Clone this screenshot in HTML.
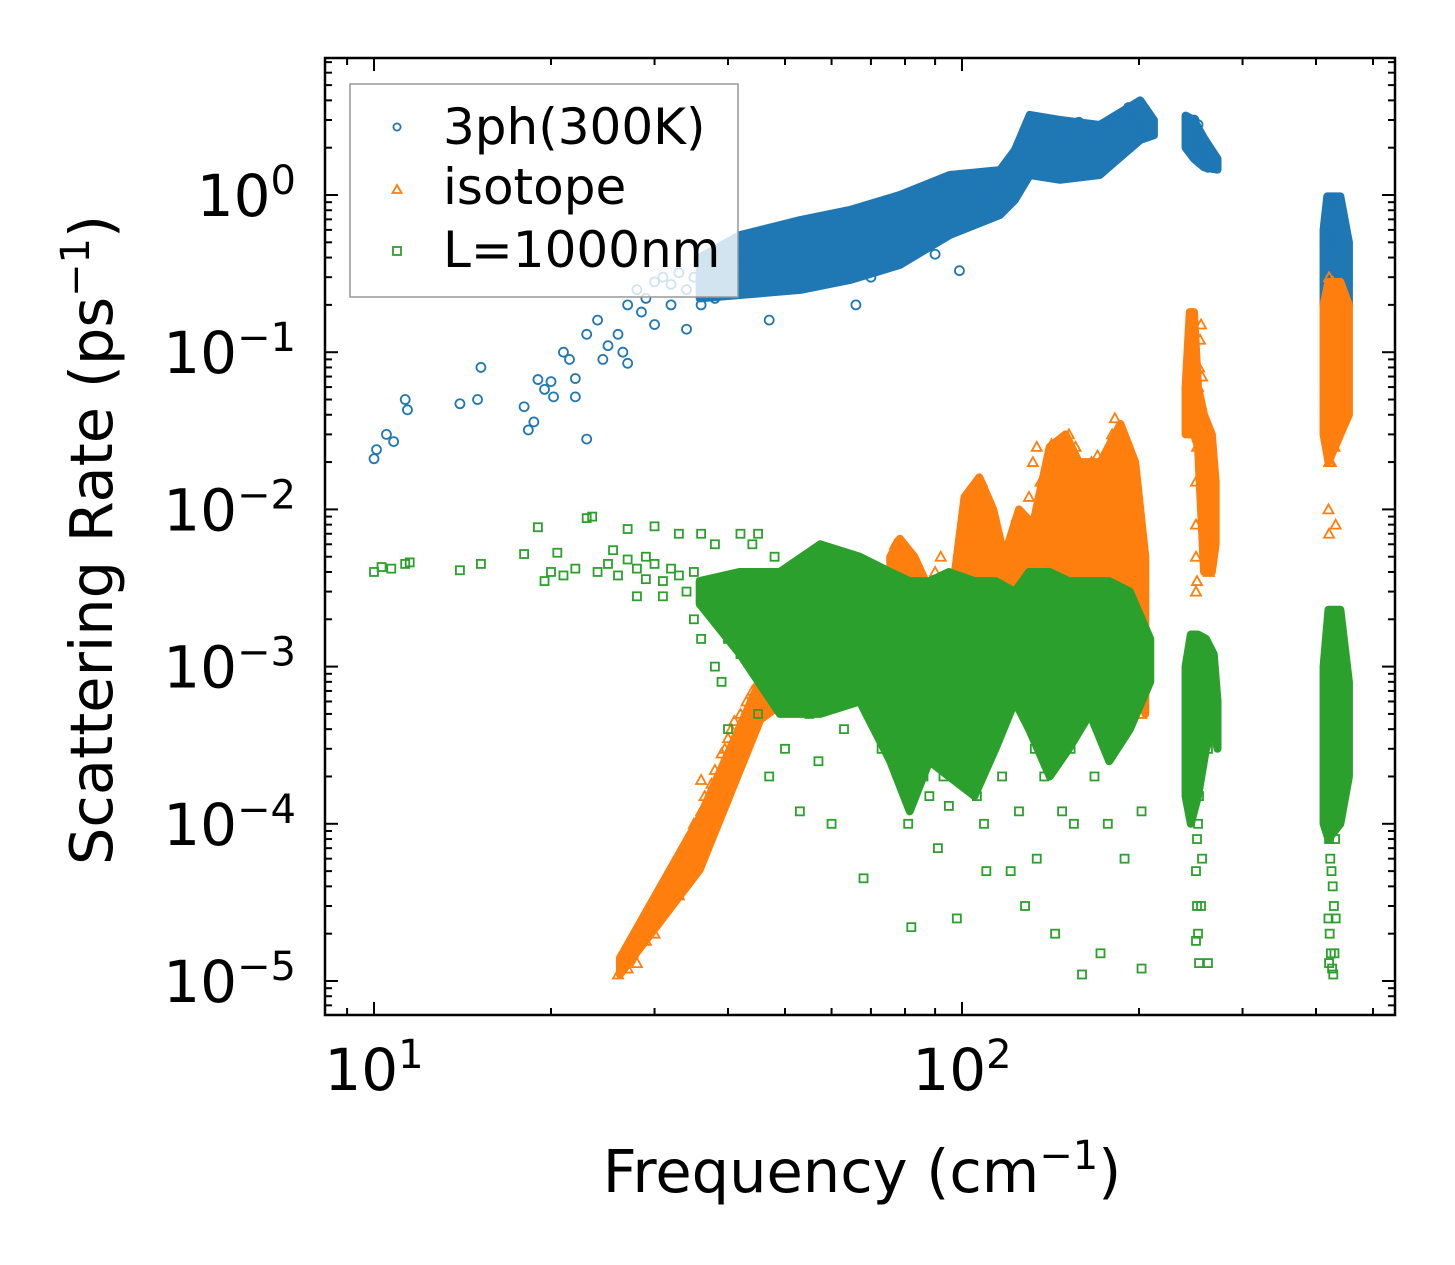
<!DOCTYPE html>
<html><head><meta charset="utf-8"><style>
body{margin:0;background:#fff}
svg{display:block;font-family:"DejaVu Sans","Liberation Sans",sans-serif}
</style></head><body>
<svg id="chart" width="1455" height="1265" viewBox="0 0 1455 1265" xmlns="http://www.w3.org/2000/svg">
<defs><clipPath id="clip"><rect x="325" y="58" width="1070" height="957"/></clipPath></defs>
<rect width="1455" height="1265" fill="#fff"/>
<g id="marks" clip-path="url(#clip)"></g>
<rect x="325" y="58" width="1070" height="957" fill="none" stroke="#000" stroke-width="2.5"/>
<g id="ticks"></g>
<text x="862" y="1192" font-size="59" text-anchor="middle">Frequency (cm<tspan dy="-23" font-size="40">−1</tspan><tspan dy="23">)</tspan></text>
<text transform="translate(112,540) rotate(-90)" font-size="59" text-anchor="middle">Scattering Rate (ps<tspan dy="-23" font-size="40">−1</tspan><tspan dy="23">)</tspan></text>
<g id="legend">
<rect x="350" y="84" width="388" height="213" fill="#fff" fill-opacity="0.8" stroke="#999" stroke-width="1.5"/>
<circle cx="397" cy="127" r="3.6" fill="none" stroke="#1f77b4" stroke-width="1.8"/>
<text x="443" y="144" font-size="50">3ph(300K)</text>
<path d="M397,185 L401.5,193 L392.5,193 Z" fill="none" stroke="#ff7f0e" stroke-width="1.8"/>
<text x="443" y="204" font-size="50">isotope</text>
<rect x="393" y="247" width="8" height="8" fill="none" stroke="#2ca02c" stroke-width="1.8"/>
<text x="443" y="267" font-size="50">L=1000nm</text>
</g>
</svg>
<script>
const xTickValues=[10,100];
const xTickLabelsExp=["1","2"];
const yTickExps=[0,-1,-2,-3,-4,-5];
const yTickLabelsExp=["0","−1","−2","−3","−4","−5"];
// dense-region envelopes: frequency, lower and upper rate
const blueBandFreq=[35.8,41.9,53.1,64.5,78.4,95.3,116,123,130.4,146.8,171.5,201,212];
const blueBandLo=[0.22,0.231,0.249,0.288,0.359,0.556,0.746,0.93,1.34,1.25,1.34,2.24,2.4];
const blueBandHi=[0.4,0.556,0.693,0.803,1.0,1.34,1.44,1.93,3.23,3.0,2.79,4.0,3.0];
const blueC1Freq=[240,248,258,272];
const blueC1Lo=[2.0,1.7,1.5,1.45];
const blueC1Hi=[3.2,3.0,2.3,1.7];
const blueC2Freq=[412,418,440,455];
const blueC2Lo=[0.2,0.15,0.15,0.2];
const blueC2Hi=[0.6,0.98,0.98,0.5];
const orangeRiseFreq=[26.2,35.8,45.4,50];
const orangeRiseLo=[1.1e-5,5.1e-5,4.6e-4,6e-4];
const orangeRiseHi=[1.4e-5,1.1e-4,8.2e-4,9e-4];
const orangeBandFreq=[75.5,78.4,83,88.3,97.3,101,107,113,118,125,132,141,150,158,172,186,197,205];
const orangeBandLo=[2e-3,2e-3,2e-3,2e-3,2e-3,2e-3,2e-3,2e-3,2e-3,2e-3,2e-3,2e-3,2e-3,2e-3,2e-3,2e-3,1e-3,5e-4];
const orangeBandHi=[5e-3,6.5e-3,5e-3,3e-3,4e-3,1.2e-2,1.6e-2,1e-2,5e-3,1e-2,8e-3,2.5e-2,3e-2,2e-2,2e-2,3.5e-2,2e-2,5e-3];
const orangeC1Freq=[240,244,248,252,258,266,270];
const orangeC1Lo=[0.03,0.03,0.03,0.025,0.004,0.004,0.006];
const orangeC1Hi=[0.06,0.18,0.18,0.06,0.04,0.03,0.015];
const orangeC2Freq=[412,420,440,455];
const orangeC2Lo=[0.03,0.02,0.03,0.04];
const orangeC2Hi=[0.2,0.28,0.28,0.2];
const greenBandFreq=[35.8,41.9,49,57.4,67,75.5,81.5,88,95,105,114,123,130,141,152,165,178,193,209];
const greenBandLo=[2.5e-3,1.2e-3,5e-4,5e-4,6e-4,2.5e-4,1.2e-4,2.5e-4,2e-4,1.5e-4,3e-4,6e-4,4e-4,2e-4,3e-4,5e-4,2.5e-4,4e-4,8e-4];
const greenBandHi=[3.5e-3,4e-3,4e-3,6e-3,5e-3,4e-3,3.5e-3,3.5e-3,4e-3,3.5e-3,3.5e-3,3e-3,4e-3,4e-3,3.5e-3,3.5e-3,3.5e-3,3e-3,1.5e-3];
const greenC1Freq=[240,245,252,260,268,272];
const greenC1Lo=[1.5e-4,1e-4,1.5e-4,3e-4,4e-4,3e-4];
const greenC1Hi=[1e-3,1.6e-3,1.6e-3,1.5e-3,1.2e-3,6e-4];
const greenC2Freq=[412,420,440,455];
const greenC2Lo=[1e-4,8e-5,1e-4,2e-4];
const greenC2Hi=[1e-3,2.3e-3,2.3e-3,8e-4];

const blueData=[10,0.021,10.1,0.024,10.5,0.03,10.8,0.027,11.3,0.05,11.4,0.043,14,0.047,15,0.05,15.2,0.08,18,0.045,18.3,0.032,18.7,0.036,19,0.067,19.5,0.058,20,0.065,20.2,0.052,21,0.1,21.5,0.09,22,0.068,22,0.052,23,0.028,23,0.13,24,0.16,25,0.11,26,0.13,24.5,0.09,26.5,0.1,27,0.085,
27,0.2,28,0.25,28.5,0.18,29,0.22,30,0.28,30,0.15,31,0.3,32,0.2,32,0.27,33,0.32,34,0.25,34,0.14,35,0.3,36,0.35,36,0.2,37,0.38,38,0.3,38,0.22,39,0.4,40,0.33,41,0.42,42,0.3,42,0.45,43,0.38,44,0.5,45,0.35,45,0.25,46,0.46,47,0.55,47,0.16,48,0.4,49,0.5,50,0.6,50,0.3,51,0.45,52,0.55,53,0.38,54,0.5,55,0.62,56,0.45,57,0.55,58,0.4,59,0.6,60,0.7,60,0.5,62,0.55,63,0.75,64,0.45,65,0.65,66,0.2,67,0.8,68,0.55,70,0.7,70,0.3,72,0.85,74,0.6,75,0.9,76,0.7,78,0.8,80,0.95,80,0.6,82,0.75,84,1.0,85,0.5,86,0.85,88,1.05,90,0.8,90,0.42,92,1.1,94,0.9,95,0.6,96,1.2,98,0.95,99,0.33,100,1.3,100,0.7,102,1.1,104,0.85,106,1.2,108,0.95,110,1.0,112,1.15,114,0.9,116,1.25,118,1.1,120,1.4,122,1.2,124,1.8,125,1.5,126,2.2,128,2.6,130,2.0,130,1.6,132,2.4,134,2.8,135,1.8,136,2.2,138,2.6,140,1.9,142,2.3,144,2.7,145,1.6,146,2.1,148,2.5,150,2.0,152,2.8,154,1.8,156,2.4,158,2.9,160,2.2,162,1.7,164,2.6,166,2.0,168,2.4,170,1.8,172,2.2,174,2.7,176,2.1,178,2.5,180,2.9,182,2.0,184,2.4,186,3.0,188,2.6,190,3.3,192,3.6,194,2.8,196,3.2,198,2.6,200,3.0,202,2.5,205,2.7,
248,3.0,250,2.6,251,2.2,252,2.8,253,2.0,254,2.4,255,1.8,256,2.2,257,1.6,258,2.0,260,1.7,262,1.5,264,1.6,266,1.5,
421,0.9,423,0.8,425,0.95,427,0.7,422,0.6,424,0.5,426,0.55,428,0.45,421,0.4,423,0.35,425,0.3,427,0.28,429,0.25,422,0.22,424,0.2,426,0.18,428,0.15,430,0.2,423,0.12,425,0.1,427,0.08,429,0.06,428,0.05,431,0.3,431,0.5];
const orangeData=[26,1.1e-5,27,1.2e-5,27.5,1.5e-5,28,1.3e-5,28.5,2e-5,29,1.8e-5,29.5,2.5e-5,30,2e-5,30.5,3e-5,31,2.8e-5,31.5,4e-5,32,3.5e-5,32.5,5e-5,33,4.5e-5,33.5,6e-5,34,7e-5,34.5,8e-5,35,1e-4,35.5,9e-5,36,1.2e-4,36.5,1.5e-4,37,1.3e-4,37.5,1.8e-4,38,2.2e-4,38.5,2e-4,39,2.8e-4,39.5,3e-4,40,3.5e-4,40.5,4e-4,41,4.5e-4,42,5e-4,43,6e-4,44,7e-4,45,8e-4,46,6e-4,47,8e-4,48,9e-4,50,7e-4,33,3.5e-5,35,6e-5,37,8e-5,39,1.5e-4,41,2.5e-4,43,3.5e-4,45,5e-4,36,1.9e-4,38,1.5e-4,
74,2e-3,75,3e-3,76,4.5e-3,77,6e-3,78,4e-3,79,5e-3,80,3e-3,81,2.5e-3,88,3e-3,90,4e-3,92,5e-3,
98,3e-3,100,4e-3,102,6e-3,104,8e-3,106,1e-2,107,1.3e-2,108,1.5e-2,110,1.2e-2,112,9e-3,114,6e-3,116,3e-3,
120,5e-3,122,7e-3,124,9e-3,126,8e-3,128,5e-3,
130,1.2e-2,132,2e-2,134,2.5e-2,136,1.5e-2,138,1e-2,140,2e-2,142,2.6e-2,144,2e-2,146,1.5e-2,148,2.8e-2,150,2.2e-2,152,3e-2,154,1.8e-2,156,2.5e-2,158,2e-2,160,1.5e-2,164,1.7e-2,166,2e-2,170,2.2e-2,174,2e-2,178,2.5e-2,180,3e-2,182,3.8e-2,184,2.8e-2,186,2e-2,188,1.5e-2,190,1e-2,192,8e-3,194,6e-3,196,4e-3,198,2e-3,200,1e-3,202,5e-4,
250,3e-3,250,8e-3,250,1.5e-2,251,2.5e-2,252,4e-2,252,6e-2,253,8e-2,254,0.12,255,0.15,256,0.07,258,0.03,260,0.015,261,0.01,262,0.006,263,0.004,250,5e-3,251,3.5e-3,
421,0.3,423,0.25,425,0.2,427,0.28,429,0.22,420,0.06,423,0.05,425,0.04,427,0.035,430,0.025,421,0.02,424,0.02,420,0.01,421,0.007,432,0.008,429,0.18];
const greenData=[10,4e-3,10.3,4.3e-3,10.7,4.2e-3,11.3,4.5e-3,11.5,4.6e-3,14,4.1e-3,15.2,4.5e-3,18,5.2e-3,19,7.7e-3,19.5,3.5e-3,20,4e-3,20.5,5.3e-3,21,3.8e-3,22,4.2e-3,23,8.8e-3,23.5,9e-3,24,4e-3,25,4.5e-3,25.5,5.5e-3,26,3.8e-3,27,4.8e-3,27,7.5e-3,28,4.2e-3,28,2.8e-3,29,5e-3,29,3.6e-3,30,4.5e-3,30,7.8e-3,31,3.5e-3,31,2.8e-3,32,4.2e-3,33,3.8e-3,33,7e-3,34,3e-3,35,2e-3,35,4e-3,36,1.5e-3,36,7e-3,37,3.5e-3,38,2.5e-3,38,1e-3,38,6e-3,39,8e-4,39,3e-3,40,1.5e-3,40,4e-4,41,2.2e-3,42,7e-3,42,1.2e-3,43,3e-3,44,6e-3,44,2e-3,45,7e-3,45,5e-4,46,1e-3,46,3e-3,47,2e-4,48,1.5e-3,48,5e-3,
50,3e-4,53,1.2e-4,55,5e-4,57,2.5e-4,60,1e-4,63,4e-4,68,4.5e-5,69,6e-4,73,3e-4,79,2e-4,81,1e-4,82,2.2e-5,84,3e-4,86,2e-4,88,1.5e-4,91,7e-5,93,2e-4,95,1.3e-4,98,2.5e-5,100,2e-4,101,3e-4,106,1.5e-4,109,1e-4,110,5e-5,117,2e-4,121,5e-5,125,1.2e-4,128,3e-5,133,3e-4,134,6e-5,138,2e-4,144,2e-5,148,1.2e-4,153,3e-4,155,1e-4,160,1.1e-5,168,2e-4,172,1.5e-5,177,1e-4,189,6e-5,202,1.2e-4,202,1.2e-5,
66,2.8e-3,79,3e-3,97,2.8e-3,113,2.8e-3,129,3e-3,147,3e-3,159,3e-3,175,3.2e-3,187,3e-3,
250,4e-4,251,3e-4,252,2e-4,253,1.5e-4,252,1e-4,251,8e-5,250,5e-5,251,3e-5,252,2e-5,250,1.8e-5,253,1.3e-5,262,1.3e-5,255,3e-5,256,6e-5,258,3e-4,262,3e-4,265,8e-4,265,4e-4,
420,3e-4,422,2e-4,424,1.5e-4,426,1.2e-4,428,1e-4,430,2e-4,421,8e-5,423,6e-5,425,5e-5,427,4e-5,429,3e-5,431,8e-5,420,2.5e-5,422,2e-5,424,1.5e-5,426,1.2e-5,428,1.1e-5,430,1.5e-5,421,1.3e-5,432,2.5e-5,418,1e-4];

const NS="http://www.w3.org/2000/svg";
const X0=325,X1=1395,Y0=58,Y1=1015;
function xs(v){return 374+(Math.log10(v)-1)*588;}
function ys(v){return 195-Math.log10(v)*157.2;}
const marks=document.getElementById('marks');
const ticks=document.getElementById('ticks');
function mk(tag,attrs,parent){const e=document.createElementNS(NS,tag);for(const k in attrs)e.setAttribute(k,attrs[k]);parent.appendChild(e);return e;}
function drawBand(fr,lo,hi,color,name){
  let d='';
  for(let i=0;i<fr.length;i++)d+=(i?'L':'M')+xs(fr[i])+','+ys(hi[i]);
  for(let i=fr.length-1;i>=0;i--)d+='L'+xs(fr[i])+','+ys(lo[i]);
  const e=mk('path',{d:d+'Z',fill:color,stroke:color,'stroke-width':8,'stroke-linejoin':'round'},marks);
  
  
}
function drawSeries(data,kind,color,name){
  const g=mk('g',{},marks);
  
  
  for(let i=0;i<data.length;i+=2){
    const cx=xs(data[i]),cy=ys(data[i+1]);let e;
    if(kind==='c')e=mk('circle',{cx:cx,cy:cy,r:4.5,fill:'none',stroke:color,'stroke-width':1.8},g);
    else if(kind==='t')e=mk('path',{d:`M${cx},${cy-5} L${cx+5},${cy+4} L${cx-5},${cy+4} Z`,fill:'none',stroke:color,'stroke-width':1.8},g);
    else e=mk('rect',{x:cx-4,y:cy-4,width:8,height:8,fill:'none',stroke:color,'stroke-width':1.8},g);
    
    
  }
}
drawBand(blueBandFreq,blueBandLo,blueBandHi,'#1f77b4','3ph-dense-band');
drawBand(blueC1Freq,blueC1Lo,blueC1Hi,'#1f77b4','3ph-cluster-250');
drawBand(blueC2Freq,blueC2Lo,blueC2Hi,'#1f77b4','3ph-cluster-425');
drawSeries(blueData,'c','#1f77b4','3ph');
drawBand(orangeRiseFreq,orangeRiseLo,orangeRiseHi,'#ff7f0e','isotope-rise-band');
drawBand(orangeBandFreq,orangeBandLo,orangeBandHi,'#ff7f0e','isotope-dense-band');
drawBand(orangeC1Freq,orangeC1Lo,orangeC1Hi,'#ff7f0e','isotope-cluster-250');
drawBand(orangeC2Freq,orangeC2Lo,orangeC2Hi,'#ff7f0e','isotope-cluster-425');
drawSeries(orangeData,'t','#ff7f0e','isotope');
drawBand(greenBandFreq,greenBandLo,greenBandHi,'#2ca02c','boundary-dense-band');
drawBand(greenC1Freq,greenC1Lo,greenC1Hi,'#2ca02c','boundary-cluster-250');
drawBand(greenC2Freq,greenC2Lo,greenC2Hi,'#2ca02c','boundary-cluster-425');
drawSeries(greenData,'s','#2ca02c','boundary');
function line(x1,y1,x2,y2,name){const e=mk('line',{x1:x1,y1:y1,x2:x2,y2:y2,stroke:'#000','stroke-width':2},ticks);
  
  }
const xMinor=[9,20,30,40,50,60,70,80,90,200,300,400,500];
xMinor.forEach(v=>{const x=xs(v);line(x,Y1,x,Y1-7,'x-minor-tick');line(x,Y0,x,Y0+7,'x-minor-tick-top');});
xTickValues.forEach((v,i)=>{const x=xs(v);line(x,Y1,x,Y1-13,'x-major-tick');line(x,Y0,x,Y0+13,'x-major-tick-top');
  const t=mk('text',{x:x,y:1090,'font-size':58,'text-anchor':'middle'},ticks);
  
  
  t.innerHTML='10<tspan dy="-22" font-size="40">'+xTickLabelsExp[i]+'</tspan>';});
yTickExps.forEach((p,i)=>{const y=ys(Math.pow(10,p));line(X0,y,X0+13,y,'y-major-tick');line(X1,y,X1-13,y,'y-major-tick-right');
  const t=mk('text',{x:296,y:y+21,'font-size':58,'text-anchor':'end'},ticks);
  
  
  t.innerHTML='10<tspan dy="-22" font-size="40">'+yTickLabelsExp[i]+'</tspan>';});
for(let p=-6;p<=0;p++){for(let m=2;m<=9;m++){const y=ys(m*Math.pow(10,p));if(y<Y0||y>Y1)continue;
  line(X0,y,X0+7,y,'y-minor-tick');line(X1,y,X1-7,y,'y-minor-tick-right');}}
</script>
</body></html>
